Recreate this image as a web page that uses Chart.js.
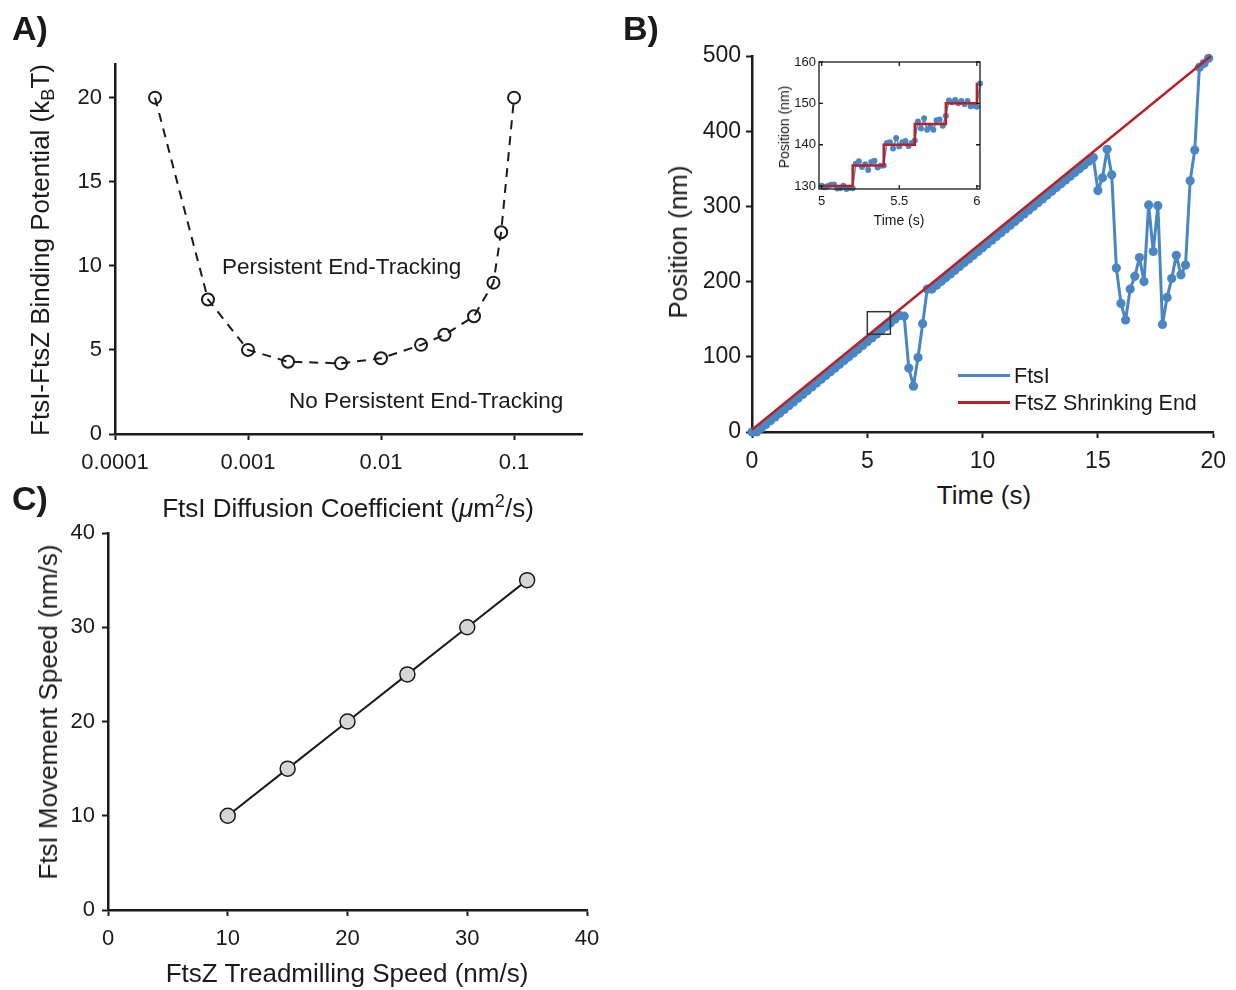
<!DOCTYPE html>
<html><head><meta charset="utf-8">
<script src="https://cdn.jsdelivr.net/npm/chart.js@4.4.1/dist/chart.umd.min.js"></script>
<style>
body{margin:0;background:#fff;width:1236px;height:990px;position:relative;overflow:hidden;font-family:"Liberation Sans",Arial,sans-serif;color:#1a1a1a}
canvas{position:absolute}
.t{position:absolute;white-space:nowrap;line-height:1}
.c{transform:translate(-50%,-50%)}
.r{transform:translate(-50%,-50%) rotate(-90deg)}
.lbl{font-weight:bold;font-size:34px}
.ttl{font-size:26px}
sub{font-size:70%;vertical-align:-0.25em}
sup{font-size:70%;vertical-align:0.55em}
.leg{position:absolute;height:3px}
</style></head><body>
<canvas id="cA" width="600" height="480" style="left:0;top:0"></canvas>
<canvas id="cB" width="616" height="480" style="left:620px;top:0"></canvas>
<canvas id="cI" width="220" height="190" style="left:770px;top:48px"></canvas>
<canvas id="cC" width="620" height="500" style="left:0;top:490px"></canvas>

<div class="t lbl c" style="left:30px;top:28px">A)</div>
<div class="t lbl c" style="left:641px;top:28px">B)</div>
<div class="t lbl c" style="left:30px;top:498px">C)</div>

<div class="t ttl r" style="left:42px;top:250px">FtsI-FtsZ Binding Potential (k<sub>B</sub>T)</div>
<div class="t ttl c" style="left:348px;top:506px">FtsI Diffusion Coefficient (<i>μ</i>m<sup>2</sup>/s)</div>
<div class="t" style="left:222px;top:256px;font-size:22.5px">Persistent End-Tracking</div>
<div class="t" style="left:289px;top:390px;font-size:22.5px">No Persistent End-Tracking</div>

<div class="t ttl r" style="left:678px;top:242px">Position (nm)</div>
<div class="t ttl c" style="left:984px;top:495px">Time (s)</div>
<div class="t r" style="left:784px;top:127px;font-size:14px">Position (nm)</div>
<div class="t c" style="left:899px;top:220px;font-size:14px">Time (s)</div>

<div class="leg" style="left:958px;top:374px;width:52px;background:#4a87c2"></div>
<div class="t" style="left:1014px;top:366px;font-size:21.5px">FtsI</div>
<div class="leg" style="left:958px;top:401px;width:52px;background:#b82128"></div>
<div class="t" style="left:1014px;top:393px;font-size:21.5px">FtsZ Shrinking End</div>

<div class="t ttl r" style="left:48px;top:712px">FtsI Movement Speed (nm/s)</div>
<div class="t ttl c" style="left:347px;top:973px">FtsZ Treadmilling Speed (nm/s)</div>

<script>
// ---------- Panel A data ----------
const diffusionA = [0.0002,0.0005,0.001,0.002,0.005,0.01,0.02,0.03,0.05,0.07,0.08,0.1];
const potentialA = [20,8,5,4.3,4.2,4.5,5.3,5.9,7,9,12,20];
const xTicksA = [0.0001,0.001,0.01,0.1];
const xTickLabelsA = ['0.0001','0.001','0.01','0.1'];
const yTicksA = [0,5,10,15,20];

// ---------- Panel B data ----------
const timeB = [0,0.2,0.4,0.6,0.8,1.0,1.2,1.4,1.6,1.8,2.0,2.2,2.4,2.6,2.8,3.0,3.2,3.4,3.6,3.8,
  4.0,4.2,4.4,4.6,4.8,5.0,5.2,5.4,5.6,5.8,6.0,6.2,6.4,6.6,6.8,7.0,7.2,7.4,7.6,7.8,
  8.0,8.2,8.4,8.6,8.8,9.0,9.2,9.4,9.6,9.8,10.0,10.2,10.4,10.6,10.8,11.0,11.2,11.4,11.6,11.8,
  12.0,12.2,12.4,12.6,12.8,13.0,13.2,13.4,13.6,13.8,14.0,14.2,14.4,14.6,14.8,15.0,15.2,15.4,15.6,15.8,
  16.0,16.2,16.4,16.6,16.8,17.0,17.2,17.4,17.6,17.8,18.0,18.2,18.4,18.6,18.8,19.0,19.2,19.4,19.6,19.8];
const positionB = [0,0,5,10,15,20,25,30,35,40,45,50,55,60,65,70,75,80,85,90,
  95,100,105,110,115,120,125,130,135,140,145,150,155,154,85,61,99,144,190,190,
  195,200,205,210,215,220,225,230,235,240,245,250,255,260,265,270,275,280,285,290,
  295,300,305,310,315,320,325,330,335,340,345,350,355,360,365,321,338,376,342,218,
  171,149,190,207,232,200,302,240,301,143,179,204,235,209,222,334,375,485,490,497];
const shrinkTimeB = [0,19.9];
const shrinkPosB = [3,500];
const xTicksB = [0,5,10,15,20];
const yTicksB = [0,100,200,300,400,500];

// ---------- Inset data ----------
const timeInset = [5.00,5.02,5.04,5.06,5.08,5.10,5.12,5.14,5.16,5.18,5.20,5.22,5.24,5.26,5.28,5.30,5.32,5.34,5.36,5.38,
  5.40,5.42,5.44,5.46,5.48,5.50,5.52,5.54,5.56,5.58,5.60,5.62,5.64,5.66,5.68,5.70,5.72,5.74,5.76,5.78,
  5.80,5.82,5.84,5.86,5.88,5.90,5.92,5.94,5.96,5.98,6.00,6.02];
const posInset = [130.1,129.7,130.0,130.3,130.4,129.4,129.5,130.1,129.3,129.6,129.5,135.4,136.0,134.6,135.3,133.9,135.8,136.1,134.5,134.9,
  135.0,140.4,140.6,139.1,141.6,139.6,140.6,140.9,139.7,140.4,141.0,145.6,143.9,146.4,143.6,144.3,143.6,145.9,146.1,144.6,
  147.0,150.7,150.3,150.8,150.0,150.6,149.8,150.6,149.3,149.5,149.2,154.8];
const stepTimeInset = [5.0,5.2,5.4,5.6,5.8,6.0];
const stepPosInset = [130,135,140,145,150,155];
const xTicksInset = [5,5.5,6];
const yTicksInset = [130,140,150,160];
const zoomBox = [5,6,130,160]; // region of panel B shown in the inset

// ---------- Panel C data ----------
const treadmillC = [10,15,20,25,30,35];
const movementC = [10,15,20,25,30,35];
const xTicksC = [0,10,20,30,40];
const yTicksC = [0,10,20,30,40];

const FONT = "'Liberation Sans', Arial, Helvetica, sans-serif";
const INK = '#1a1a1a';
const BLUE = '#4a87c2';
const RED = '#b82128';

const pts = (xs, ys) => xs.map((x,i)=>({x, y:ys[i]}));

function axis(o){
  return {
    type: o.type || 'linear', min: o.min, max: o.max, position: o.pos,
    afterFit: s => { if (s.isHorizontal()) s.height = o.size; else s.width = o.size; },
    afterBuildTicks: s => { s.ticks = o.ticks.map(v => ({value:v})); },
    ticks: { font:{family:FONT, size:o.fs || 22}, color:INK, padding:o.pad, autoSkip:false, maxRotation:0,
      callback: o.labels ? ((v,i)=>o.labels[i]) : (v=>String(v)) },
    grid: o.inner ? {display:false, drawTicks:false} :
      {display:true, drawOnChartArea:false, drawTicks:true, tickLength:6, tickWidth:2, tickColor:INK},
    border: o.inner ? {display:false} : {display:true, color:INK, width:2.5},
    title: {display:false}
  };
}

const base = {
  responsive:false, animation:false, events:[], devicePixelRatio:1,
  plugins:{legend:{display:false}, tooltip:{enabled:false}}
};

// ---------- Panel A ----------
new Chart(document.getElementById('cA'), {
  type:'scatter',
  data:{datasets:[{
    data: pts(diffusionA, potentialA), showLine:true, tension:0, clip:false,
    borderColor:INK, borderWidth:2, borderDash:[9,7],
    pointRadius:6, pointBorderWidth:2, pointBorderColor:INK, pointBackgroundColor:'rgba(0,0,0,0)'
  }]},
  options:{...base,
    layout:{padding:{left:0,right:18,top:64,bottom:0}},
    scales:{
      x: axis({type:'logarithmic', min:0.0001, max:0.3243, ticks:xTicksA, labels:xTickLabelsA, size:46, pad:10, pos:'bottom'}),
      y: axis({min:0, max:22, ticks:yTicksA, size:115, pad:7, pos:'left'})
    }}
});

// ---------- Panel B ----------
const zoomBoxPlugin = {
  id:'zoomBox',
  afterDatasetsDraw(chart){
    const {ctx, scales:{x,y}} = chart;
    const x0 = x.getPixelForValue(zoomBox[0]), x1 = x.getPixelForValue(zoomBox[1]);
    const y0 = y.getPixelForValue(zoomBox[2]), y1 = y.getPixelForValue(zoomBox[3]);
    ctx.save(); ctx.strokeStyle='#333'; ctx.lineWidth=1.5;
    ctx.strokeRect(x0, y1, x1-x0, y0-y1); ctx.restore();
  }
};
new Chart(document.getElementById('cB'), {
  type:'scatter',
  data:{datasets:[
    {data: pts(shrinkTimeB, shrinkPosB), showLine:true, tension:0, clip:false,
     borderColor:RED, borderWidth:2.5, pointRadius:0},
    {data: pts(timeB, positionB), showLine:true, tension:0, clip:false,
     borderColor:BLUE, borderWidth:3, borderJoinStyle:'round', borderCapStyle:'round',
     pointRadius:4.6, pointBorderWidth:0, pointBackgroundColor:BLUE}
  ]},
  options:{...base,
    layout:{padding:{left:0,right:20,top:56,bottom:0}},
    scales:{
      x: axis({min:0, max:20, ticks:xTicksB, size:48, pad:10, fs:23, pos:'bottom'}),
      y: axis({min:0, max:500, ticks:yTicksB, size:132, pad:5, fs:23, pos:'left'})
    }},
  plugins:[zoomBoxPlugin]
});

// ---------- Inset ----------
const insetFrame = {
  id:'insetFrame',
  afterDraw(chart){
    const {ctx, chartArea:a, scales:{x,y}} = chart;
    ctx.save(); ctx.strokeStyle=INK; ctx.lineWidth=1.3;
    ctx.strokeRect(a.left, a.top, a.right-a.left, a.bottom-a.top);
    const L = 4;
    ctx.beginPath();
    x.ticks.forEach(t=>{const p=x.getPixelForValue(t.value);
      ctx.moveTo(p,a.bottom); ctx.lineTo(p,a.bottom-L); ctx.moveTo(p,a.top); ctx.lineTo(p,a.top+L);});
    y.ticks.forEach(t=>{const p=y.getPixelForValue(t.value);
      ctx.moveTo(a.left,p); ctx.lineTo(a.left+L,p); ctx.moveTo(a.right,p); ctx.lineTo(a.right-L,p);});
    ctx.stroke(); ctx.restore();
  }
};
new Chart(document.getElementById('cI'), {
  type:'scatter',
  data:{datasets:[
    {data: pts(stepTimeInset, stepPosInset), showLine:true, stepped:'before', clip:false,
     borderColor:RED, borderWidth:2.5, pointRadius:0},
    {data: pts(timeInset, posInset), showLine:true, tension:0, clip:false,
     borderColor:BLUE, borderWidth:1.5, borderJoinStyle:'round',
     pointRadius:3, pointBorderWidth:0, pointBackgroundColor:BLUE}
  ]},
  options:{...base,
    layout:{padding:{left:0,right:10,top:14,bottom:0}},
    scales:{
      x: axis({min:4.983, max:6.02, ticks:xTicksInset, size:49, pad:5, fs:13, inner:true, pos:'bottom'}),
      y: axis({min:129.3, max:160, ticks:yTicksInset, size:49, pad:3, fs:13, inner:true, pos:'left'})
    }},
  plugins:[insetFrame]
});

// ---------- Panel C ----------
new Chart(document.getElementById('cC'), {
  type:'scatter',
  data:{datasets:[{
    data: pts(treadmillC, movementC), showLine:true, tension:0, clip:false,
    borderColor:INK, borderWidth:2,
    pointRadius:7.5, pointBorderWidth:1.5, pointBorderColor:INK, pointBackgroundColor:'#d6d6d6'
  }]},
  options:{...base,
    layout:{padding:{left:0,right:33,top:43,bottom:0}},
    scales:{
      x: axis({min:0, max:40, ticks:xTicksC, size:80, pad:10, pos:'bottom'}),
      y: axis({min:0, max:40, ticks:yTicksC, size:108, pad:7, pos:'left'})
    }}
});
</script>
</body></html>
